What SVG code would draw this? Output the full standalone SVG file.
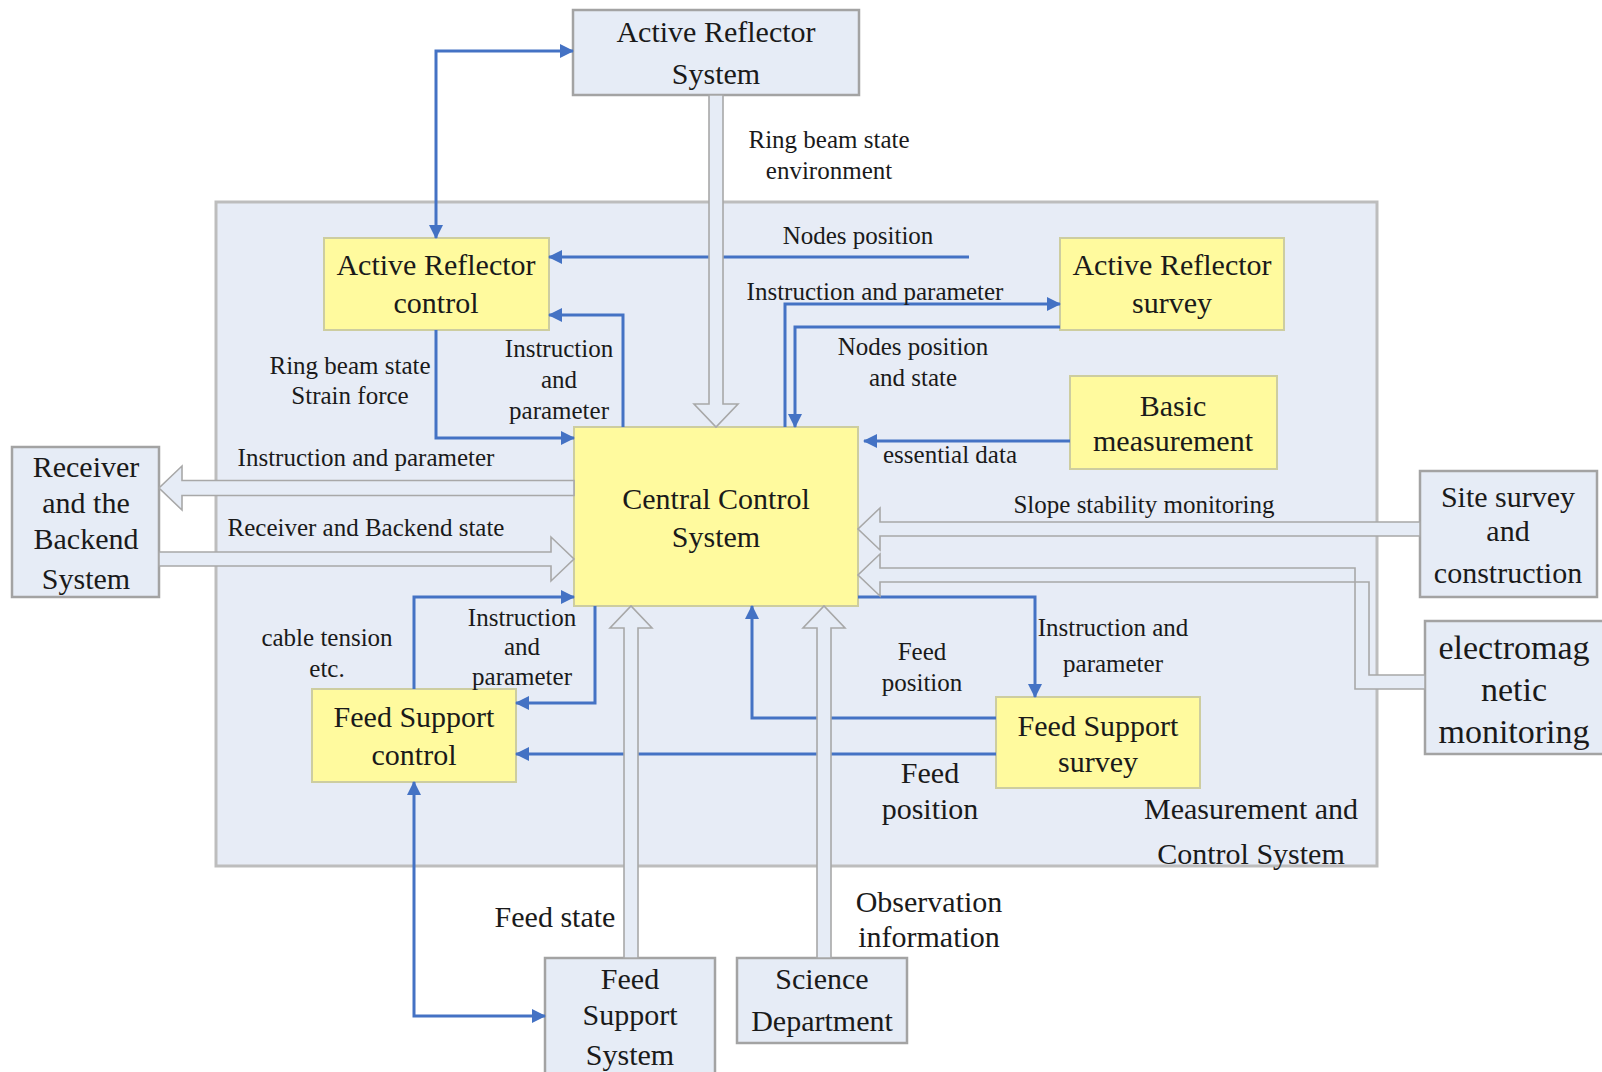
<svg xmlns="http://www.w3.org/2000/svg" width="1602" height="1072" viewBox="0 0 1602 1072" font-family="'Liberation Serif', Tinos, 'Times New Roman', 'DejaVu Serif', serif">
<style>
.bg{fill:#ffffff}
.cont{fill:#E7ECF6;stroke:#BDBDBD;stroke-width:3}
.gray{fill:#E6ECF6;stroke:#A3A3A3;stroke-width:2.5}
.yel{fill:#FFFA9E;stroke:#CDCDA0;stroke-width:2}
.blue{fill:none;stroke:#4472C4;stroke-width:3}
.hol{fill:#E6ECF6;stroke:#A8A8A8;stroke-width:1.6;stroke-linejoin:miter}
text{font-family:'Liberation Serif',Tinos,'Times New Roman','DejaVu Serif',serif;fill:#1a1a1a;text-anchor:middle}
.big{font-size:30px}
.em{font-size:34px}
.sm{font-size:25px}
</style>
<defs>
<marker id="ah" viewBox="0 0 14 14" refX="13" refY="7" markerWidth="14" markerHeight="14" markerUnits="userSpaceOnUse" orient="auto-start-reverse">
<path d="M0,0 L14,7 L0,14 z" fill="#4472C4"/>
</marker>
</defs>
<rect class="bg" x="0" y="0" width="1602" height="1072"/>

<g id="measurement-control-system">
<rect class="cont" x="216" y="202" width="1161" height="664"/>
</g>

<g id="active-reflector-system">
<rect class="gray" x="573" y="10" width="286" height="85"/>
<text class="big" x="716" y="42">Active Reflector</text>
<text class="big" x="716" y="84">System</text>
</g>
<g id="active-reflector-control">
<rect class="yel" x="324" y="238" width="225" height="92"/>
<text class="big" x="436" y="275">Active Reflector</text>
<text class="big" x="436" y="313">control</text>
</g>
<g id="active-reflector-survey">
<rect class="yel" x="1060" y="238" width="224" height="92"/>
<text class="big" x="1172" y="275">Active Reflector</text>
<text class="big" x="1172" y="313">survey</text>
</g>
<g id="basic-measurement">
<rect class="yel" x="1070" y="376" width="207" height="93"/>
<text class="big" x="1173" y="416">Basic</text>
<text class="big" x="1173" y="451">measurement</text>
</g>
<g id="central-control-system">
<rect class="yel" x="574" y="427" width="284" height="179"/>
<text class="big" x="716" y="509">Central Control</text>
<text class="big" x="716" y="547">System</text>
</g>
<g id="receiver-backend-system">
<rect class="gray" x="12" y="447" width="147" height="150"/>
<text class="big" x="86" y="477">Receiver</text>
<text class="big" x="86" y="513">and the</text>
<text class="big" x="86" y="549">Backend</text>
<text class="big" x="86" y="589">System</text>
</g>
<g id="site-survey-construction">
<rect class="gray" x="1420" y="471" width="177" height="126"/>
<text class="big" x="1508" y="507">Site survey</text>
<text class="big" x="1508" y="541">and</text>
<text class="big" x="1508" y="583">construction</text>
</g>
<g id="electromagnetic-monitoring">
<rect class="gray" x="1425" y="621" width="180" height="133"/>
<text class="em" x="1514" y="659">electromag</text>
<text class="em" x="1514" y="701">netic</text>
<text class="em" x="1514" y="743">monitoring</text>
</g>
<g id="feed-support-control">
<rect class="yel" x="312" y="689" width="204" height="93"/>
<text class="big" x="414" y="727">Feed Support</text>
<text class="big" x="414" y="765">control</text>
</g>
<g id="feed-support-survey">
<rect class="yel" x="996" y="697" width="204" height="91"/>
<text class="big" x="1098" y="736">Feed Support</text>
<text class="big" x="1098" y="772">survey</text>
</g>
<g id="feed-support-system">
<rect class="gray" x="545" y="958" width="170" height="120"/>
<text class="big" x="630" y="989">Feed</text>
<text class="big" x="630" y="1025">Support</text>
<text class="big" x="630" y="1065">System</text>
</g>
<g id="science-department">
<rect class="gray" x="737" y="958" width="170" height="85"/>
<text class="big" x="822" y="989">Science</text>
<text class="big" x="822" y="1031">Department</text>
</g>

<g id="connectors">
<path class="blue" d="M573,51 H436 V238" marker-start="url(#ah)" marker-end="url(#ah)"/>
<path class="blue" d="M969,257 H549" marker-end="url(#ah)"/>
<path class="blue" d="M785,427 V304 H1060" marker-end="url(#ah)"/>
<path class="blue" d="M1060,327 H795 V427" marker-end="url(#ah)"/>
<path class="blue" d="M1070,441 H864" marker-end="url(#ah)"/>
<path class="blue" d="M436,330 V438 H574" marker-end="url(#ah)"/>
<path class="blue" d="M623,427 V315 H549" marker-end="url(#ah)"/>
<path class="blue" d="M858,597 H1035 V697" marker-end="url(#ah)"/>
<path class="blue" d="M996,718 H752 V606" marker-end="url(#ah)"/>
<path class="blue" d="M996,754 H516" marker-end="url(#ah)"/>
<path class="blue" d="M414,689 V597 H574" marker-end="url(#ah)"/>
<path class="blue" d="M595,606 V703 H516" marker-end="url(#ah)"/>
<path class="blue" d="M414,782 V1016 H545" marker-start="url(#ah)" marker-end="url(#ah)"/>

<polygon class="hol" points="709,95 723,95 723,404 738,404 716,427 694,404 709,404"/>
<polygon class="hol" points="574,480.5 182,480.5 182,466 159,488 182,510 182,495.5 574,495.5"/>
<polygon class="hol" points="159,552 551,552 551,537 574,559 551,581 551,566 159,566"/>
<polygon class="hol" points="1420,522 880,522 880,508 858,529 880,550 880,536 1420,536"/>
<polygon class="hol" points="1425,675 1369,675 1369,582 880,582 880,596 858,575 880,554 880,568 1355,568 1355,689 1425,689"/>
<polygon class="hol" points="624,958 624,628 610,628 631,606 652,628 638,628 638,958"/>
<polygon class="hol" points="817,958 817,628 803,628 824,606 845,628 831,628 831,958"/>
</g>

<g id="labels">
<text class="sm" x="829" y="148">Ring beam state</text>
<text class="sm" x="829" y="179">environment</text>
<text class="sm" x="858" y="244">Nodes position</text>
<text class="sm" x="875" y="300">Instruction and parameter</text>
<text class="sm" x="913" y="355">Nodes position</text>
<text class="sm" x="913" y="386">and state</text>
<text class="sm" x="950" y="463">essential data</text>
<text class="sm" x="350" y="374">Ring beam state</text>
<text class="sm" x="350" y="404">Strain force</text>
<text class="sm" x="559" y="357">Instruction</text>
<text class="sm" x="559" y="388">and</text>
<text class="sm" x="559" y="419">parameter</text>
<text class="sm" x="366" y="466">Instruction and parameter</text>
<text class="sm" x="366" y="536">Receiver and Backend state</text>
<text class="sm" x="1144" y="513">Slope stability monitoring</text>
<text class="sm" x="327" y="646">cable tension</text>
<text class="sm" x="327" y="677">etc.</text>
<text class="sm" x="522" y="626">Instruction</text>
<text class="sm" x="522" y="655">and</text>
<text class="sm" x="522" y="685">parameter</text>
<text class="sm" x="922" y="660">Feed</text>
<text class="sm" x="922" y="691">position</text>
<text class="sm" x="1113" y="636">Instruction and</text>
<text class="sm" x="1113" y="672">parameter</text>
<text class="big" x="930" y="783">Feed</text>
<text class="big" x="930" y="819">position</text>
<text class="big" x="555" y="927">Feed state</text>
<text class="big" x="929" y="912">Observation</text>
<text class="big" x="929" y="947">information</text>
<text class="big" x="1251" y="819">Measurement and</text>
<text class="big" x="1251" y="864">Control System</text>
</g>
</svg>
